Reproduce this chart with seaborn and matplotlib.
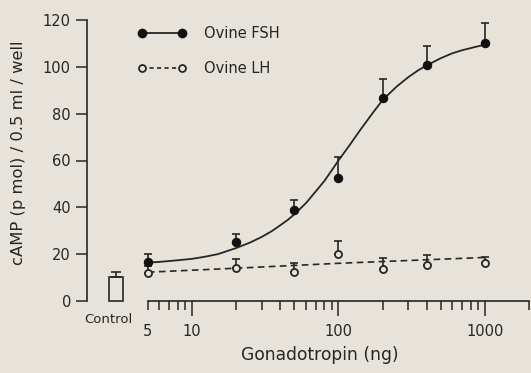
import numpy as np
import pandas as pd
import matplotlib
matplotlib.use("Agg")
import matplotlib.pyplot as plt
from matplotlib.lines import Line2D
from matplotlib.ticker import FixedLocator, FixedFormatter
import seaborn as sns

# ---- data ----
dose = [5, 20, 50, 100, 200, 400, 1000]
fsh_mean = [16.7, 25.3, 38.9, 52.4, 86.6, 100.6, 110.1]
fsh_err = [3.3, 3.3, 4.3, 9.0, 8.3, 8.5, 8.6]
lh_mean = [12.1, 14.0, 12.5, 20.0, 13.5, 15.4, 16.4]
lh_err = [3.0, 3.8, 3.9, 5.8, 4.7, 4.2, 2.5]

fsh_curve_x = [5, 6, 8, 10, 12, 15, 20, 25, 30, 35, 40, 45, 50, 60, 70, 80, 90,
               100, 120, 140, 170, 200, 250, 300, 350, 400, 500, 600, 700, 800,
               900, 1000]
fsh_curve_y = [16.4, 16.7, 17.4, 18.0, 18.8, 20.0, 22.6, 25.0, 27.4, 29.8, 32.3,
               34.6, 37.0, 41.8, 46.8, 51.2, 55.8, 60.0, 66.8, 72.8, 80.0, 85.8,
               91.6, 95.6, 98.5, 100.6, 103.7, 105.8, 107.1, 108.0, 108.8, 109.4]
lh_line_x = [5, 20, 100, 1000]
lh_line_y = [12.3, 14.0, 16.1, 18.6]

control_label = "Control"
control_mean = 10.4
control_err = 1.9

x_major = [10, 100, 1000]
x_major_labels = ["10", "100", "1000"]
x_minor = [5, 6, 7, 8, 9, 20, 30, 40, 50, 60, 70, 80, 90,
           200, 300, 400, 500, 600, 700, 800, 900, 2000]
y_ticks = [0, 20, 40, 60, 80, 100, 120]

# ---- style ----
sns.set_style("ticks")
bg = "#e7e3db"
ink = "#262626"
plt.rcParams["font.family"] = ["DejaVu Sans"]
plt.rcParams["text.color"] = ink
plt.rcParams["axes.labelcolor"] = ink
plt.rcParams["xtick.color"] = ink
plt.rcParams["ytick.color"] = ink

fig = plt.figure(figsize=(5.31, 3.73), dpi=100, facecolor=bg)
ax = fig.add_axes([87 / 531, 1 - 301 / 373, (529 - 87) / 531, (301 - 20) / 373])
ax.set_facecolor(bg)
ax.set_xscale("log")
ax.set_xlim(1.92, 2000)
ax.set_ylim(0, 120)

curve_df = pd.DataFrame({"x": fsh_curve_x, "y": fsh_curve_y})
lh_df = pd.DataFrame({"x": lh_line_x, "y": lh_line_y})
pts = pd.DataFrame({"dose": dose, "fsh": fsh_mean, "lh": lh_mean})

# curves
sns.lineplot(data=curve_df, x="x", y="y", ax=ax, color=ink, lw=1.3, zorder=2)
sns.lineplot(data=lh_df, x="x", y="y", ax=ax, color=ink, lw=1.2,
             linestyle=(0, (4, 2.6)), zorder=2)

# error bars (upper only)
ax.errorbar(dose, fsh_mean, yerr=[np.zeros(len(dose)), fsh_err], fmt="none",
            ecolor=ink, elinewidth=1.2, capsize=3.2, capthick=1.2, zorder=3)
ax.errorbar(dose, lh_mean, yerr=[np.zeros(len(dose)), lh_err], fmt="none",
            ecolor=ink, elinewidth=1.2, capsize=3.2, capthick=1.2, zorder=3)

# markers
sns.scatterplot(data=pts, x="dose", y="fsh", ax=ax, marker="o", s=36,
                color="#111111", edgecolor="#111111", linewidth=0.8, zorder=4)
sns.scatterplot(data=pts, x="dose", y="lh", ax=ax, marker="o", s=26,
                facecolor=bg, edgecolor=ink, linewidth=1.3, zorder=4)

# control bar
cx = 3.04
ax.bar([cx], [control_mean], width=0.64, facecolor=bg, edgecolor=ink,
       linewidth=1.2, zorder=3, clip_on=False)
ax.errorbar([cx], [control_mean], yerr=[[0], [control_err]], fmt="none",
            ecolor=ink, elinewidth=1.2, capsize=3.8, capthick=1.2, zorder=3)
ax.text(2.67, -7.7, control_label, ha="center", va="center", fontsize=9.5,
        color=ink, clip_on=False)

# axes
for s in ["top", "right"]:
    ax.spines[s].set_visible(False)
ax.spines["left"].set_bounds(0, 120)
ax.spines["bottom"].set_bounds(5, 2000)
for s in ["left", "bottom"]:
    ax.spines[s].set_linewidth(1.2)
    ax.spines[s].set_color(ink)

ax.xaxis.set_major_locator(FixedLocator(x_major))
ax.xaxis.set_major_formatter(FixedFormatter(x_major_labels))
ax.xaxis.set_minor_locator(FixedLocator(x_minor))
ax.xaxis.set_minor_formatter(FixedFormatter(["5"] + [""] * (len(x_minor) - 1)))
ax.tick_params(axis="x", which="major", length=11, width=1.1, pad=5.5,
               labelsize=10.5, direction="out")
ax.tick_params(axis="x", which="minor", length=6.5, width=1.1, pad=10,
               labelsize=10.5, direction="out")
ax.set_yticks(y_ticks)
ax.set_yticklabels([str(v) for v in y_ticks])
ax.tick_params(axis="y", which="major", length=8, width=1.1, pad=3.6,
               labelsize=10.5, direction="out")

ax.set_ylabel("cAMP (p mol) / 0.5 ml / well", fontsize=11.8)
ax.yaxis.set_label_coords(-0.156, 0.527)
ax.yaxis.label.set_va("center")
ax.set_xlabel("Gonadotropin (ng)", fontsize=12.3)
ax.xaxis.set_label_coords(0.527, -0.192)
ax.xaxis.label.set_va("center")

# legend
h_fsh = Line2D([], [], color=ink, lw=1.3, marker="o", markersize=6,
               markerfacecolor="#111111", markeredgecolor="#111111")
h_lh = Line2D([], [], color=ink, lw=1.2, linestyle=(0, (2.5, 2)), marker="o",
              markersize=5, markerfacecolor=bg, markeredgecolor=ink,
              markeredgewidth=1.3)
ax.legend(handles=[h_fsh, h_lh], labels=["Ovine FSH", "Ovine LH"],
          loc="upper left", bbox_to_anchor=((136 - 87) / 442, 0.985),
          frameon=False, numpoints=2, handlelength=3.34, handletextpad=1.2,
          labelspacing=1.4, fontsize=10.5, borderpad=0.1, borderaxespad=0)

fig.savefig("out.png", dpi=100, facecolor=bg)
